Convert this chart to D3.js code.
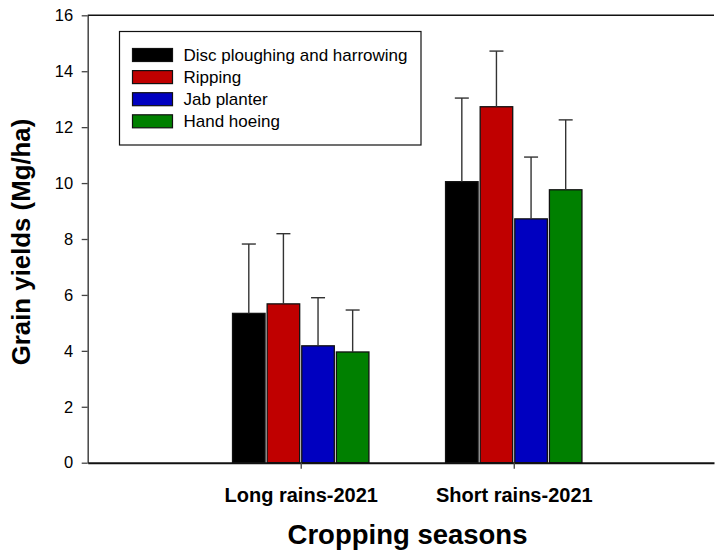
<!DOCTYPE html>
<html>
<head>
<meta charset="utf-8">
<script src="https://cdn.jsdelivr.net/npm/d3@7"></script>
<style>
  html, body { margin: 0; padding: 0; background: #fff; }
  svg { display: block; font-family: "Liberation Sans", Arial, sans-serif; }
</style>
</head>
<body>
<svg id="chart" width="715" height="553"></svg>
<script>
// Grain yield by tillage practice and cropping season
const seasons = ["Long rains-2021", "Short rains-2021"];
const treatments = ["Disc ploughing and harrowing", "Ripping", "Jab planter", "Hand hoeing"];
const colors = ["#000000", "#c00000", "#0000c0", "#008000"];
// mean yields (Mg/ha), one array per season, in treatment order
const longRains = [5.34, 5.68, 4.18, 3.96];
const shortRains = [10.05, 12.73, 8.72, 9.76];
// upper error (Mg/ha)
const longRainsErr = [2.48, 2.51, 1.72, 1.50];
const shortRainsErr = [2.99, 1.99, 2.21, 2.50];
const yTicks = [0, 2, 4, 6, 8, 10, 12, 14, 16];

const means = [longRains, shortRains];
const errs = [longRainsErr, shortRainsErr];

const svg = d3.select("#chart");
const plotLeft = 87.7, plotRight = 714, plotTop = 15.3, plotBottom = 462.7;

const y = d3.scaleLinear().domain([0, 16]).range([plotBottom, plotTop]);
// season positions along the x frame
const x = d3.scaleLinear().domain([0, 2.94]).range([plotLeft, plotRight]);
const inner = d3.scaleBand().domain(treatments).range([-68.2, 68.2]).paddingInner(0.06);

const rows = [];
seasons.forEach((s, i) => {
  treatments.forEach((t, j) => {
    rows.push({ season: s, si: i, treatment: t, tj: j, value: means[i][j], err: errs[i][j] });
  });
});

// frame top line
svg.append("line")
  .attr("x1", plotLeft).attr("x2", plotRight).attr("y1", plotTop).attr("y2", plotTop)
  .attr("stroke", "#111").attr("stroke-width", 1.5);

// bars
svg.append("g").selectAll("rect").data(rows).join("rect")
  .attr("x", d => x(d.si + 1) + inner(d.treatment))
  .attr("y", d => y(d.value))
  .attr("width", inner.bandwidth())
  .attr("height", d => y(0) - y(d.value))
  .attr("fill", d => colors[d.tj])
  .attr("stroke", "#111").attr("stroke-width", 1.3);

// error bars
const eb = svg.append("g").attr("stroke", "#333").attr("stroke-width", 1.4);
eb.selectAll("line.v").data(rows).join("line").attr("class", "v")
  .attr("x1", d => x(d.si + 1) + inner(d.treatment) + inner.bandwidth() / 2)
  .attr("x2", d => x(d.si + 1) + inner(d.treatment) + inner.bandwidth() / 2)
  .attr("y1", d => y(d.value))
  .attr("y2", d => y(d.value + d.err));
eb.selectAll("line.c").data(rows).join("line").attr("class", "c")
  .attr("x1", d => x(d.si + 1) + inner(d.treatment) + inner.bandwidth() / 2 - 7)
  .attr("x2", d => x(d.si + 1) + inner(d.treatment) + inner.bandwidth() / 2 + 7)
  .attr("y1", d => y(d.value + d.err))
  .attr("y2", d => y(d.value + d.err));

// y axis
const yAxis = svg.append("g").attr("transform", `translate(${plotLeft},0)`)
  .call(d3.axisLeft(y).tickValues(yTicks).tickSize(6).tickPadding(8.5).tickSizeOuter(0));
yAxis.select(".domain").attr("stroke", "#444").attr("stroke-width", 1.5);
yAxis.selectAll(".tick line").attr("stroke", "#444").attr("stroke-width", 1.3);
yAxis.selectAll(".tick text").attr("font-size", 16.5).attr("fill", "#000")
  .attr("font-family", "'Liberation Sans', Arial, sans-serif");

// x axis
const xAxis = svg.append("g").attr("transform", `translate(0,${plotBottom})`)
  .call(d3.axisBottom(x).tickValues([1, 2]).tickFormat(d => seasons[d - 1])
    .tickSize(6).tickPadding(19).tickSizeOuter(0));
xAxis.select(".domain").attr("stroke", "#111").attr("stroke-width", 2);
xAxis.selectAll(".tick line").attr("stroke", "#444").attr("stroke-width", 1.3);
xAxis.selectAll(".tick text").attr("font-size", 20).attr("font-weight", "bold").attr("fill", "#000")
  .attr("font-family", "'Liberation Sans', Arial, sans-serif");

// axis titles
svg.append("text")
  .attr("transform", "translate(30,242) rotate(-90)")
  .attr("text-anchor", "middle")
  .attr("font-size", 25.8).attr("font-weight", "bold")
  .text("Grain yields (Mg/ha)");
svg.append("text")
  .attr("x", 407.5).attr("y", 544)
  .attr("text-anchor", "middle")
  .attr("font-size", 27.5).attr("font-weight", "bold")
  .text("Cropping seasons");

// legend
const lg = svg.append("g");
lg.append("rect")
  .attr("x", 119.5).attr("y", 31.5).attr("width", 301.5).attr("height", 113.5)
  .attr("fill", "#fff").attr("stroke", "#111").attr("stroke-width", 1.2);
const items = lg.selectAll("g.item").data(treatments).join("g").attr("class", "item")
  .attr("transform", (d, i) => `translate(132.5,${48.5 + i * 22.1})`);
items.append("rect")
  .attr("width", 40).attr("height", 13)
  .attr("fill", (d, i) => colors[i])
  .attr("stroke", "#111").attr("stroke-width", 1.2);
items.append("text")
  .attr("x", 51).attr("y", 12.5)
  .attr("font-size", 17)
  .text(d => d);
</script>
</body>
</html>
